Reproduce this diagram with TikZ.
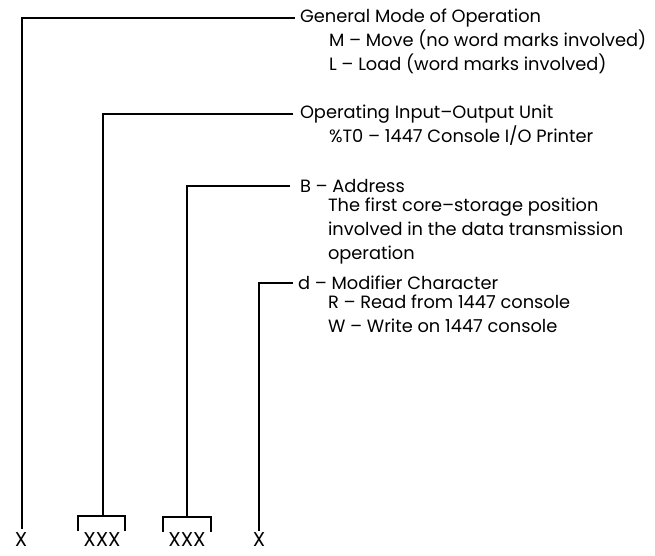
\documentclass[tikz,border=0pt]{standalone}
\usepackage{fontspec}
\setmainfont{Poppins}
\usetikzlibrary{positioning}
\tikzset{
  lead/.style={line width=1.3pt},
  head/.style={anchor=west, inner sep=0, outer sep=0, font=\fontsize{17.8}{24}\selectfont},
  desc/.style={anchor=north west, inner sep=0, outer sep=0, align=left, font=\fontsize{17.8}{24}\selectfont},
  field/.style={anchor=center, inner sep=0, outer sep=0, font=\fontsize{20}{21}\selectfont}
}
\begin{document}
\begin{tikzpicture}[x=1pt,y=-1pt]
  \useasboundingbox (0,0) rectangle (655,555);
  % headings and their notes
  \node[head] (gm) at (300,18) {General Mode of Operation};
  \node[desc] (gmtxt) at (329,30) {M -- Move (no word marks involved)\\L -- Load (word marks involved)};
  \node[head] (io) at (300,114) {Operating Input--Output Unit};
  \node[desc] (iotxt) at (329,126) {\%T0 -- 1447 Console I/O Printer};
  \node[head] (baddr) at (300,186) {B -- Address};
  \node[desc] (btxt) at (328,198) {The first core--storage position\\involved in the data transmission\\operation};
  \node[head] (dmod) at (298,283) {d -- Modifier Character};
  \node[desc] (dtxt) at (328,295) {R -- Read from 1447 console\\W -- Write on 1447 console};
  % instruction format
  \node[field] (xop) at (21,540) {X};
  \node[field] (xio) at (102,540) {XXX};
  \node[field] (xb) at (187,540) {XXX};
  \node[field] (xd) at (259,540) {X};
  \coordinate (iol) at (78,531); \coordinate (ior) at (125,531);
  \coordinate (bl) at (163,532); \coordinate (br) at (211,532);
  % leaders
  \draw[lead] (gm.west) ++(-5,0) -| (22,529);
  \draw[lead] (io.west) ++(-7,0) -| (103,516);
  \draw[lead] (iol) |- (ior |- 0,516) -- (ior);
  \draw[lead] (baddr.west) ++(-10,0) -| (187,517);
  \draw[lead] (bl) |- (br |- 0,517) -- (br);
  \draw[lead] (dmod.west) ++(-5,0) -| (259,531);
\end{tikzpicture}
\end{document}
